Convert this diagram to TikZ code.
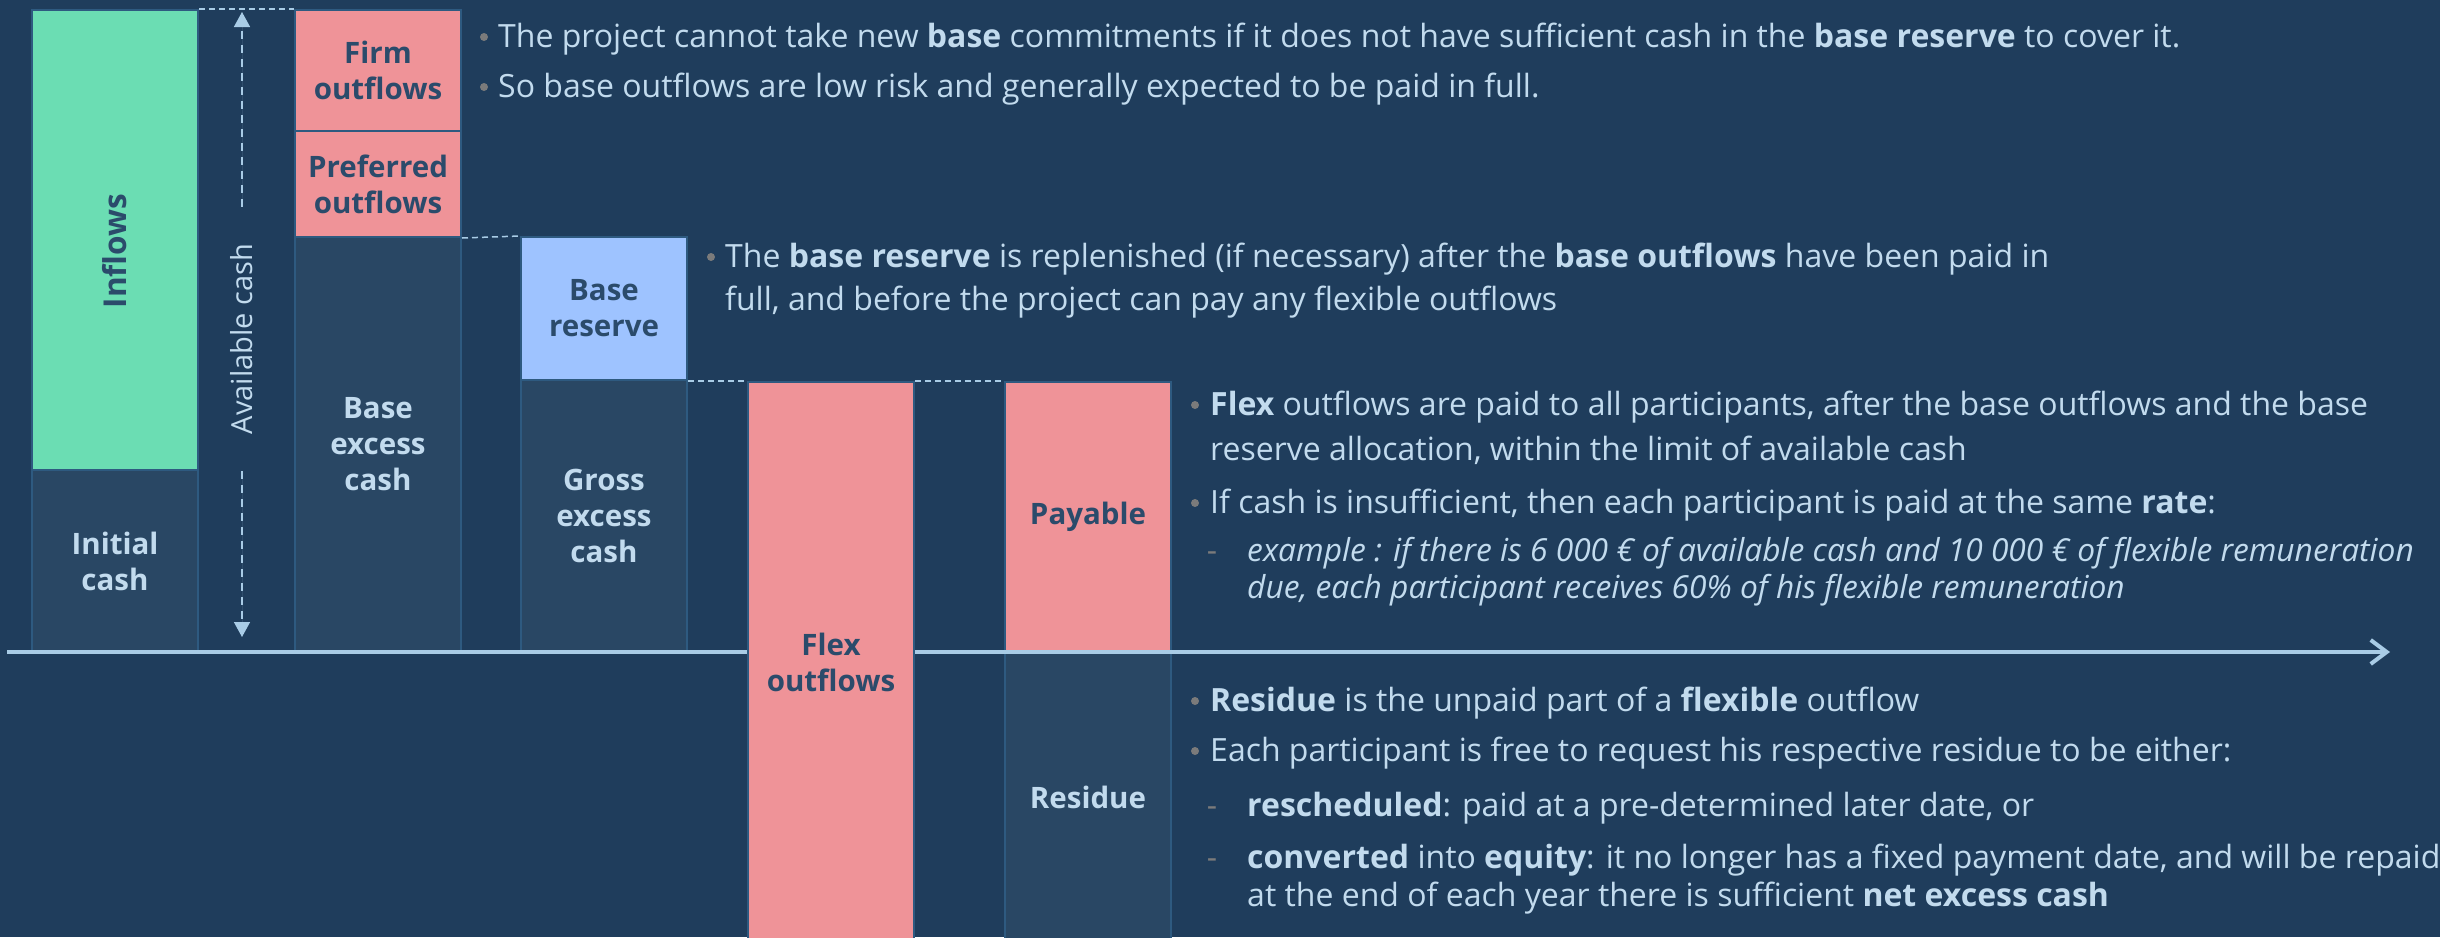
\documentclass[tikz,border=0pt]{standalone}
\usepackage{fontspec}
\setmainfont{Open Sans}
\usetikzlibrary{arrows.meta}

\definecolor{bg}{HTML}{1F3D5C}
\definecolor{cellfill}{HTML}{294764}
\definecolor{celledge}{HTML}{2E5A80}
\definecolor{inflowgreen}{HTML}{6BDDB3}
\definecolor{outpink}{HTML}{EF9398}
\definecolor{reserveblue}{HTML}{9EC3FF}
\definecolor{lighttext}{HTML}{C2DBEE}
\definecolor{darktext}{HTML}{2B4B6B}
\definecolor{axisblue}{HTML}{A9CCE6}
\definecolor{dotgrey}{HTML}{7B7B7B}

\tikzset{
  cell/.style={draw=celledge, line width=2pt, minimum width=166pt, inner sep=0pt,
    align=center, font=\fontsize{29.5}{36}\selectfont\bfseries},
  darkcell/.style={cell, fill=cellfill, text=lighttext},
  pinkcell/.style={cell, fill=outpink, text=darktext},
  greencell/.style={cell, fill=inflowgreen, text=darktext},
  bluecell/.style={cell, fill=reserveblue, text=darktext},
  celltext/.style={inner sep=0pt, font=\fontsize{31.5}{36}\selectfont\bfseries},
  body/.style={anchor=base west, inner sep=0pt, text=lighttext, font=\fontsize{32}{38}\selectfont},
  example/.style={body, font=\fontsize{31.7}{38}\selectfont\itshape},
  dot/.style={circle, fill=dotgrey, inner sep=0pt, minimum size=8pt},
  dashmark/.style={anchor=base, inner sep=0pt, text=dotgrey, font=\fontsize{32}{38}\selectfont},
  guide/.style={draw=axisblue, line width=1.5pt, dash pattern=on 6pt off 4pt},
  axisline/.style={draw=axisblue, line width=4pt, -{Straight Barb[length=16pt, width=24pt]}},
  avail/.style={draw=axisblue, line width=1.5pt, dash pattern=on 8pt off 6pt,
    -{Triangle[length=15pt, width=16pt]}, fill=axisblue},
}

\begin{document}
\begin{tikzpicture}[x=1pt, y=-1pt]
\useasboundingbox (0,0) rectangle (2440,937);
\fill[bg] (0,0) rectangle (2440,937);

% stacked cash columns
\node[greencell, minimum height=460pt] (inflows) at (115,240) {};
\node[celltext, rotate=90, text=darktext] (inflowslbl) at (115,251) {Inflows};
\node[darkcell, minimum height=182pt] (initial) at (115,561) {Initial\\cash};

\node[pinkcell, minimum height=121pt] (firm) at (378,70.5) {Firm\\outflows};
\node[pinkcell, minimum height=106pt] (preferred) at (378,184) {Preferred\\outflows};
\node[darkcell, minimum height=415pt] (baseexcess) at (378,444.5) {Base\\excess\\cash};

\node[bluecell, minimum height=143pt] (basereserve) at (604,308.5) {Base\\reserve};
\node[darkcell, minimum height=272pt] (gross) at (604,516) {Gross\\excess\\cash};

\node[pinkcell, minimum height=270pt] (payable) at (1088,517) {Payable};
\node[darkcell, minimum height=290pt] (residue) at (1088,797) {Residue};

% time axis
\coordinate (axstart) at (7,652);
\coordinate (axend) at (2390,652);
\draw[axisline] (axstart) -- (axend);

\node[pinkcell, minimum height=560pt] (flex) at (831,662) {Flex\\outflows};

% level guides between columns
\draw[guide] (inflows.north east) -- (firm.north west);
\draw[guide] (preferred.south east) -- (basereserve.north west);
\draw[guide] (basereserve.south east) -- (flex.north west);
\draw[guide] (flex.north east) -- (payable.north west);

% available cash span
\node[rotate=90, inner xsep=37pt, inner ysep=0pt, text=lighttext,
      font=\fontsize{29}{36}\selectfont] (availcash) at (242,339) {Available cash};
\coordinate (availtop) at (242,12);
\coordinate (availbottom) at (242,637);
\draw[avail] (availcash.east) -- (availtop);
\draw[avail] (availcash.west) -- (availbottom);

% notes on base outflows
\node[dot] (d1a) at (484,37) {};
\node[body] (t1a) at (498,47) {The project cannot take new \textbf{base} commitments if it does not have sufficient cash in the \textbf{base reserve} to cover it.};
\node[dot] (d1b) at (484,87) {};
\node[body] (t1b) at (498,97) {So base outflows are low risk and generally expected to be paid in full.};

% notes on base reserve
\node[dot] (d2a) at (711,257) {};
\node[body] (t2a) at (725,267) {The \textbf{base reserve} is replenished (if necessary) after the \textbf{base outflows} have been paid in};
\node[body] (t2b) at (725,310) {full, and before the project can pay any flexible outflows};

% notes on flex outflows
\node[dot] (d3a) at (1195,405) {};
\node[body] (t3a) at (1210,415) {\textbf{Flex} outflows are paid to all participants, after the base outflows and the base};
\node[body] (t3b) at (1210,460) {reserve allocation, within the limit of available cash};
\node[dot] (d3c) at (1195,503) {};
\node[body] (t3c) at (1210,513) {If cash is insufficient, then each participant is paid at the same \textbf{rate}:};
\node[dashmark] (m3d) at (1212,561) {-};
\node[example] (t3d) at (1247,561) {example : if there is 6 000 € of available cash and 10 000 € of flexible remuneration};
\node[example] (t3e) at (1247,598) {due, each participant receives 60\% of his flexible remuneration};

% notes on residue
\node[dot] (d4a) at (1195,701) {};
\node[body] (t4a) at (1210,711) {\textbf{Residue} is the unpaid part of a \textbf{flexible} outflow};
\node[dot] (d4b) at (1195,751) {};
\node[body] (t4b) at (1210,761) {Each participant is free to request his respective residue to be either:};
\node[dashmark] (m4c) at (1212,816) {-};
\node[body] (t4c) at (1247,816) {\textbf{rescheduled}: paid at a pre-determined later date, or};
\node[dashmark] (m4d) at (1212,868) {-};
\node[body] (t4d) at (1247,868) {\textbf{converted} into \textbf{equity}: it no longer has a fixed payment date, and will be repaid};
\node[body] (t4e) at (1247,906) {at the end of each year there is sufficient \textbf{net excess cash}};
\end{tikzpicture}
\end{document}
